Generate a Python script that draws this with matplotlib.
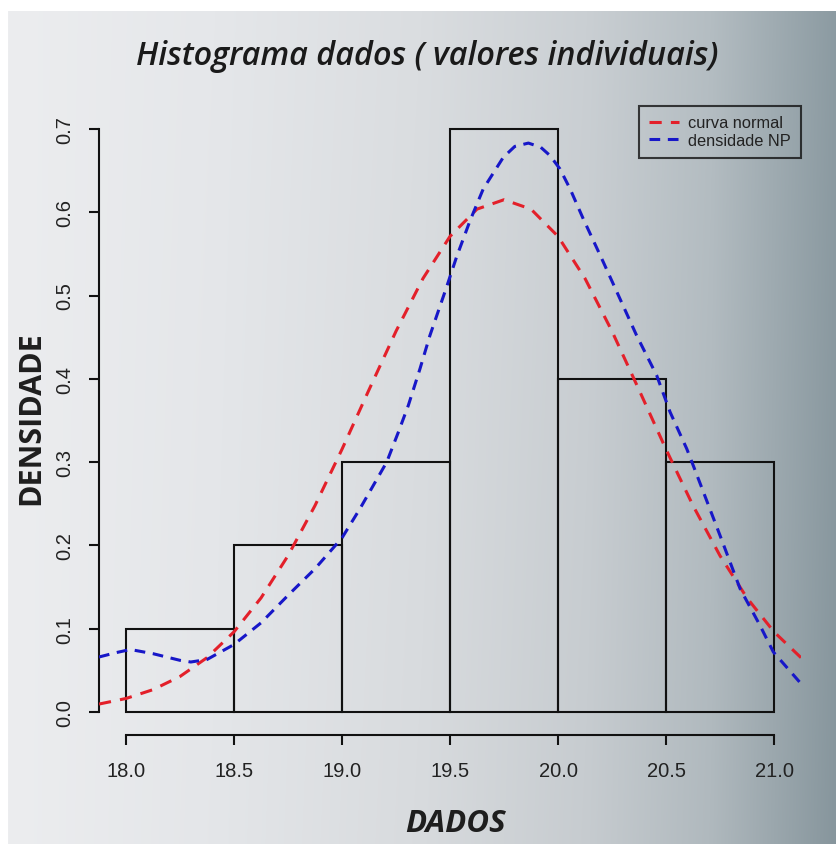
import numpy as np
import matplotlib
matplotlib.use("Agg")
import matplotlib.pyplot as plt
from matplotlib import font_manager as fm

# ---------------- data ----------------
bin_edges = [18.0, 18.5, 19.0, 19.5, 20.0, 20.5, 21.0]
densities = [0.1, 0.2, 0.3, 0.7, 0.4, 0.3]

normal_x = [17.875, 18.0, 18.125, 18.25, 18.375, 18.5, 18.625, 18.75, 18.875,
            19.0, 19.125, 19.25, 19.375, 19.5, 19.625, 19.75, 19.875, 20.0,
            20.125, 20.25, 20.375, 20.5, 20.625, 20.75, 20.875, 21.0, 21.125]
normal_y = [0.0095, 0.0162, 0.0268, 0.0426, 0.0652, 0.0962, 0.1369, 0.1876, 0.2478,
            0.3154, 0.3868, 0.4571, 0.5205, 0.5710, 0.6037, 0.6150, 0.6037, 0.5710,
            0.5205, 0.4571, 0.3868, 0.3154, 0.2478, 0.1876, 0.1369, 0.0962, 0.0652]

kde_x = [17.875, 17.95, 18.02, 18.125, 18.25, 18.30, 18.375, 18.5, 18.625, 18.75,
         18.875, 19.0, 19.083, 19.145, 19.207, 19.261, 19.307, 19.361, 19.407,
         19.484, 19.530, 19.593, 19.654, 19.747, 19.80, 19.863, 19.92, 19.963,
         20.009, 20.056, 20.117, 20.21, 20.287, 20.364, 20.457, 20.519, 20.596,
         20.626, 20.75, 20.843, 20.935, 20.997, 21.125]
kde_y = [0.066, 0.071, 0.075, 0.070, 0.062, 0.060, 0.063, 0.081, 0.107, 0.140,
         0.172, 0.209, 0.244, 0.272, 0.300, 0.336, 0.368, 0.412, 0.452,
         0.510, 0.546, 0.590, 0.628, 0.666, 0.679, 0.683, 0.678, 0.668,
         0.652, 0.628, 0.592, 0.540, 0.496, 0.452, 0.404, 0.360, 0.316,
         0.296, 0.212, 0.148, 0.104, 0.072, 0.034]

x_ticks = [18.0, 18.5, 19.0, 19.5, 20.0, 20.5, 21.0]
y_ticks = [0.0, 0.1, 0.2, 0.3, 0.4, 0.5, 0.6, 0.7]
title_text = "Histograma dados ( valores individuais)"
xlabel_text = "DADOS"
ylabel_text = "DENSIDADE"
legend_labels = ["curva normal", "densidade NP"]

# ---------------- fonts ----------------
available = {f.name for f in fm.fontManager.ttflist}
head_font = next((n for n in ["Open Sans", "Noto Sans", "DejaVu Sans"] if n in available), "DejaVu Sans")
body_font = next((n for n in ["Liberation Sans", "Arial", "DejaVu Sans"] if n in available), "DejaVu Sans")

W, H = 836, 845
fig = plt.figure(figsize=(W / 100, H / 100), dpi=100)
fig.patch.set_facecolor("white")

# ---------------- gradient background ----------------
bg_ax = fig.add_axes([8 / W, 0, 1 - 8 / W, 1 - 12 / H])
bg_ax.set_axis_off()
nx, ny = 400, 200
tx = np.linspace(0, 1, nx)
ty = np.linspace(0, 1, ny)  # 0 = top
stops = [0.0, 0.25, 0.5, 0.7, 0.85, 1.0]
cols = np.array([[236, 237, 239], [229, 231, 234], [218, 221, 224],
                 [202, 207, 211], [180, 189, 194], [140, 155, 162]]) / 255.0
img = np.zeros((ny, nx, 3))
for c in range(3):
    row = np.interp(tx, stops, cols[:, c])
    img[:, :, c] = row[None, :] - 0.02 * ty[:, None] * tx[None, :]
bg_ax.imshow(np.clip(img, 0, 1), aspect="auto", extent=[0, 1, 0, 1], interpolation="bilinear")
bg_ax.set_xlim(0, 1)
bg_ax.set_ylim(0, 1)

# ---------------- main axes ----------------
left, right = 99 / W, 801 / W
bottom, top = 1 - 736.3 / H, 1 - 106.6 / H
ax = fig.add_axes([left, bottom, right - left, top - bottom])
ax.patch.set_alpha(0)

widths = np.diff(bin_edges)
ax.bar(bin_edges[:-1], densities, width=widths, align="edge", fill=False,
       edgecolor="#111111", linewidth=1.5, zorder=2)

lw = 2.2
ax.plot(normal_x, normal_y, color="#e3202a", linewidth=lw, dashes=(4, 3),
        label=legend_labels[0], zorder=3)
ax.plot(kde_x, kde_y, color="#1717c8", linewidth=lw, dashes=(3.5, 2.5),
        label=legend_labels[1], zorder=3)

ax.set_xlim(17.875, 21.125)
ax.set_ylim(-0.028, 0.728)
for s in ["top", "right"]:
    ax.spines[s].set_visible(False)
ax.spines["left"].set_bounds(0, 0.7)
ax.spines["bottom"].set_bounds(18, 21)
for s in ["left", "bottom"]:
    ax.spines[s].set_linewidth(1.5)
    ax.spines[s].set_color("#111111")

ax.set_xticks(x_ticks)
ax.set_xticklabels([f"{v:.1f}" for v in x_ticks])
ax.set_yticks(y_ticks)
ax.set_yticklabels([f"{v:.1f}" for v in y_ticks], rotation=90, va="center")
ax.tick_params(axis="both", length=7.5, width=1.5, color="#111111",
               labelsize=14.5, labelcolor="#222222")
ax.tick_params(axis="x", pad=11)
ax.tick_params(axis="y", pad=10)
for lab in ax.get_xticklabels() + ax.get_yticklabels():
    lab.set_fontfamily(body_font)

leg = ax.legend(loc="upper right", bbox_to_anchor=(1.0, 1.0), borderaxespad=0,
                frameon=True, fancybox=False, edgecolor="#111111",
                facecolor="none", prop={"family": body_font, "size": 11.8},
                handlelength=1.8, handletextpad=0.6, borderpad=0.6,
                labelspacing=0.15)
leg.get_frame().set_linewidth(1.5)
for t in leg.get_texts():
    t.set_color("#222222")

# ---------------- texts ----------------
fig.text(427.5 / W, 1 - 65 / H, title_text, ha="center", va="baseline",
         fontsize=23.3, fontweight="semibold", fontstyle="italic",
         family=head_font, color="#1a1a1a")
fig.text(455 / W, 1 - 832 / H, xlabel_text, ha="center", va="baseline",
         fontsize=22.5, fontweight="bold", fontstyle="italic",
         family=head_font, color="#1e1e1e")
fig.text(31 / W, 1 - 418 / H, ylabel_text, ha="center", va="center",
         rotation=90, fontsize=22, fontweight="bold",
         family=head_font, color="#1e1e1e")

fig.savefig("out.png", dpi=100)
